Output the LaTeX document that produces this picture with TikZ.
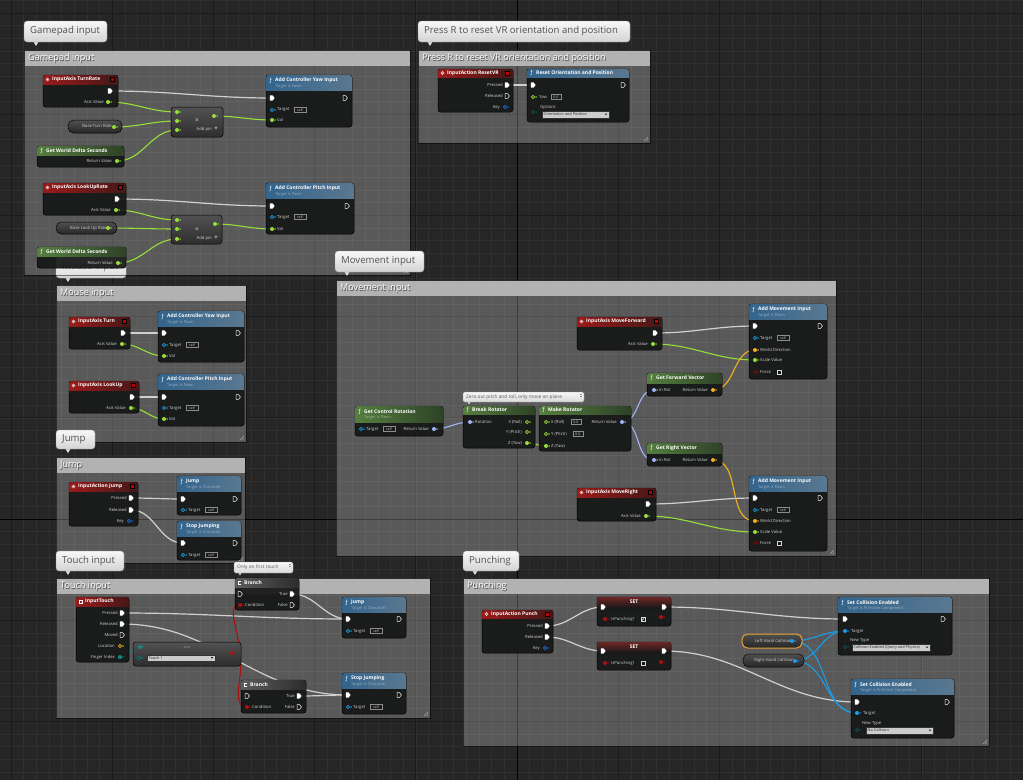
\documentclass[tikz,border=0pt]{standalone}
\usepackage{fontspec}
\setmainfont{Open Sans}
\newfontfamily\symfont{DejaVu Sans}
\usetikzlibrary{fit}
\pgfdeclarelayer{back}
\pgfdeclarelayer{wires}
\pgfsetlayers{back,wires,main}

\definecolor{bgc}{HTML}{262626}
\definecolor{gridminor}{HTML}{303030}
\definecolor{gridmajor}{HTML}{1B1B1B}
\definecolor{cmthead}{HTML}{B2B2B2}
\definecolor{nbody}{HTML}{161717}
\definecolor{cexec}{HTML}{D0D0D0}
\definecolor{cfloat}{HTML}{98DE3A}
\definecolor{cvec}{HTML}{F0B21E}
\definecolor{crot}{HTML}{A2B4F6}
\definecolor{cobj}{HTML}{1B9DE6}
\definecolor{cbool}{HTML}{A81212}
\definecolor{cbooldk}{HTML}{7A1010}
\definecolor{cenum}{HTML}{0F8C7C}
\definecolor{cstruct}{HTML}{1F6FD6}
\definecolor{cenumdk}{HTML}{0E5358}
\definecolor{evL}{HTML}{9A1B1B}
\definecolor{evR}{HTML}{451717}
\definecolor{fnL}{HTML}{33648C}
\definecolor{fnR}{HTML}{5A7890}
\definecolor{puL}{HTML}{557F3F}
\definecolor{puR}{HTML}{2E4227}
\definecolor{brL}{HTML}{5C5C5C}
\definecolor{brR}{HTML}{2C2C2C}
\definecolor{setR}{HTML}{6E2626}
\definecolor{pillT}{HTML}{505050}
\definecolor{pillB}{HTML}{262626}
\definecolor{selorange}{HTML}{E8A03A}

\tikzset{
  nodebody/.style={fill=nbody,fill opacity=0.93,draw=black,line width=0.5pt,rounded corners=2.5pt},
  hdr-ev/.style={left color=evL,right color=evR},
  hdr-touch/.style={left color=evL,right color=evR},
  hdr-fn/.style={left color=fnL,right color=fnR},
  hdr-pure/.style={left color=puL,right color=puR},
  hdr-branch/.style={left color=brL,right color=brR},
  ntitle/.style={text=white,font=\fontsize{5}{5.5}\selectfont\bfseries,inner sep=0pt},
  nsub/.style={text=white,text opacity=0.45,font=\fontsize{4}{4.5}\selectfont,inner sep=0pt},
  plabel/.style={text=white!82!black,font=\fontsize{4.2}{4.6}\selectfont,inner sep=0pt},
  cmttitle/.style={text=white,font=\fontsize{9.1}{10}\selectfont,anchor=west,inner sep=0pt},
  cmtshadow/.style={text=black!75,font=\fontsize{9.1}{10}\selectfont,anchor=west,inner sep=0pt},
  bubbletext/.style={text=black!68,font=\fontsize{9.6}{10}\selectfont,anchor=west,inner sep=0pt},
  sbubbletext/.style={text=black!65,font=\fontsize{4.8}{5}\selectfont,anchor=west,inner sep=0pt},
  xw/.style={line width=1.2pt,draw=cexec,out=0,in=180},
  fw/.style={line width=1.1pt,draw=cfloat,out=0,in=180},
  vw/.style={line width=1.1pt,draw=cvec,out=0,in=180},
  rw/.style={line width=1.1pt,draw=crot,out=0,in=180},
  ow/.style={line width=1.1pt,draw=cobj,out=0,in=180},
  bw/.style={line width=1.1pt,draw=cbool,out=0,in=180},
  ew/.style={line width=1.1pt,draw=cenum,out=0,in=180},
}

% ---------- icons ----------
\newcommand\iconev[4]{%
  \draw[white,line width=0.45pt] ({#1+4.5},#2) circle (1.6);
  \fill[white] ({#1+4.5},#2) circle (0.55);
  \filldraw[fill=red!75!black,draw=black,line width=0.3pt] ({#3-7.5},{#4+2.3}) rectangle ({#3-3.5},{#4+6.3});}
\newcommand\iconfn[4]{\node[text=white,font=\fontsize{5.5}{6}\symfont,inner sep=0pt] at ({#1+4.6},#2) {ƒ};}
\newcommand\iconpure[4]{\iconfn{#1}{#2}{#3}{#4}}
\newcommand\iconbranch[4]{%
  \draw[white,line width=0.5pt] ({#1+6.2},{#2-1.6}) -- ({#1+3.4},{#2-1.6}) -- ({#1+3.4},{#2+1.6}) -- ({#1+6.2},{#2+1.6});}
\newcommand\icontouch[4]{%
  \draw[white,line width=0.4pt,fill=evL] ({#1+2.8},{#2-1.8}) rectangle ({#1+6.2},{#2+1.8});}

% ---------- blueprint node ----------
% name x1 y1 x2 y2 headerheight kind title subtitle
\newcommand\uenode[9]{%
  \node[fit={(#2,#3)(#4,#5)},inner sep=0pt,nodebody] (#1) {};
  \begin{scope}
    \clip[rounded corners=2.5pt] (#2,#3) rectangle (#4,#5);
    \fill[hdr-#7] (#2,#3) rectangle (#4,{#3+#6});
  \end{scope}
  \pgfmathsetmacro\uety{#3+min(#6,11)/2}%
  \csname icon#7\endcsname{#2}{\uety}{#4}{#3}%
  \node[ntitle,anchor=west] at ({#2+9},\uety) {#8};
  \node[nsub,anchor=west] at ({#2+9},{#3+11.2}) {#9};
}
\newcommand\setnode[5]{%
  \node[fit={(#2,#3)(#4,#5)},inner sep=0pt,nodebody] (#1) {};
  \begin{scope}
    \clip[rounded corners=2.5pt] (#2,#3) rectangle (#4,#5);
    \shade[top color=setR,bottom color=nbody] (#2,#3) rectangle (#4,{#3+11});
  \end{scope}
  \node[ntitle] at ({(#2+#4)/2},{#3+4.5}) {SET};
}
\newcommand\compactnode[5]{%
  \node[fit={(#2,#3)(#4,#5)},inner sep=0pt,rounded corners=3pt,top color=black!68,bottom color=black!82,draw=black,line width=0.5pt] (#1) {};}
\newcommand\pill[7]{%
  \node[fit={(#2,#3)(#4,#5)},inner sep=0pt,rounded corners=5.5pt,top color=pillT,bottom color=pillB,draw=black,line width=0.5pt,#7] (#1) {};
  \node[plabel,anchor=east] at ({#4-10},{(#3+#5)/2}) {#6};}

% ---------- pins ----------
\newcommand\xpin[4]{%
  \coordinate (#1) at (#2,#3);
  \ifnum#4=1
    \fill[white] ({#2-2.2},{#3-2.6}) -- ({#2+0.6},{#3-2.6}) -- ({#2+2.6},#3) -- ({#2+0.6},{#3+2.6}) -- ({#2-2.2},{#3+2.6}) -- cycle;
  \else
    \draw[white,line width=0.5pt,fill=nbody] ({#2-2},{#3-2.4}) -- ({#2+0.5},{#3-2.4}) -- ({#2+2.4},#3) -- ({#2+0.5},{#3+2.4}) -- ({#2-2},{#3+2.4}) -- cycle;
  \fi}
\newcommand\dpin[5]{%
  \coordinate (#1) at (#2,#3);
  \ifnum#5=1
    \fill[#4] (#2,#3) circle (2);
  \else
    \draw[#4,line width=0.65pt,fill=nbody] (#2,#3) circle (1.6);
  \fi
  \fill[#4] ({#2+2.7},{#3-1.1}) -- ({#2+3.9},#3) -- ({#2+2.7},{#3+1.1}) -- cycle;}
\newcommand\pinlabR[3]{\node[plabel,anchor=west] at (#1,#2) {#3};}
\newcommand\pinlabL[3]{\node[plabel,anchor=east] at (#1,#2) {#3};}
\newcommand\selfbox[2]{%
  \draw[white!55!black,line width=0.4pt] (#1,{#2-2.4}) rectangle ({#1+12},{#2+2.4});
  \node[plabel,font=\fontsize{3.4}{3.5}\selectfont] at ({#1+6},#2) {self};}
\newcommand\valbox[3]{%
  \draw[white!55!black,line width=0.4pt] (#1,{#2-2.6}) rectangle ({#1+10},{#2+2.6});
  \node[plabel,font=\fontsize{3.6}{3.8}\selectfont] at ({#1+5},#2) {#3};}
\newcommand\chkbox[3]{%
  \draw[white!85!black,line width=0.5pt,fill=nbody] ({#1-2.2},{#2-2.2}) rectangle ({#1+2.2},{#2+2.2});
  \ifnum#3=1 \draw[white,line width=0.5pt] ({#1-1.3},#2) -- ({#1-0.3},{#2+1.2}) -- ({#1+1.4},{#2-1.4}); \fi}
\newcommand\dropdown[5]{%
  \filldraw[fill=white!80!black,draw=black!80,line width=0.3pt] (#1,#2) rectangle (#3,#4);
  \node[font=\fontsize{3.8}{4}\selectfont,text=black!85,anchor=west,inner sep=0pt] at ({#1+1.5},{(#2+#4)/2}) {#5};
  \fill[black!85] ({#3-4.2},{(#2+#4)/2-0.8}) -- ({#3-1.8},{(#2+#4)/2-0.8}) -- ({#3-3},{(#2+#4)/2+0.8}) -- cycle;}

% ---------- comments ----------
\newcommand\cmtbox[6]{%
  \node[fit={(#2,#3)(#4,#5)},inner sep=0pt,fill=white,fill opacity=0.24,draw=black,draw opacity=0.5,line width=0.5pt] (#1) {};
  \fill[cmthead] ({#2+0.5},{#3+0.5}) rectangle ({#4-0.5},{#3+16});
  \node[cmtshadow] at ({#2+4.6},{#3+9.1}) {#6};
  \node[cmttitle] at ({#2+4},{#3+8.5}) {#6};
  \draw[white!65!black,line width=0.4pt] ({#4-2},{#5-6}) -- ({#4-6},{#5-2}) ({#4-2},{#5-3.5}) -- ({#4-3.5},{#5-2});}
\newcommand\bubble[6]{%
  \fill[white!85!black] ({#2+9},{#5-1}) -- ({#2+15},{#5-1}) -- ({#2+12},{#5+4}) -- cycle;
  \node[fit={(#2,#3)(#4,#5)},inner sep=0pt,rounded corners=3pt,top color=white!97!black,bottom color=white!83!black,draw=white!55!black,line width=0.4pt] (#1) {};
  \node[bubbletext] at ({#2+6},{(#3+#5)/2}) {#6};}
\newcommand\smallbubble[6]{%
  \fill[white!85!black] ({#2+4},{#5-1}) -- ({#2+8},{#5-1}) -- ({#2+6},{#5+2.5}) -- cycle;
  \node[fit={(#2,#3)(#4,#5)},inner sep=0pt,rounded corners=1.5pt,top color=white!97!black,bottom color=white!85!black,draw=white!55!black,line width=0.3pt] (#1) {};
  \node[sbubbletext] at ({#2+3},{(#3+#5)/2}) {#6};
  \draw[black!45,line width=0.3pt] ({#4-4},{#3+2.5}) -- ({#4-2},{#3+2.5}) ({#4-4},{#3+3.7}) -- ({#4-2},{#3+3.7});}

\begin{document}
\begin{tikzpicture}[x=1pt,y=-1pt]
\useasboundingbox (0,0) rectangle (1023,780);

\begin{pgfonlayer}{back}
  \fill[bgc] (0,0) rectangle (1023,780);
  \foreach \i in {-40,...,40} \draw[gridminor,line width=0.6pt] ({517+\i*12.65},0) -- ({517+\i*12.65},780);
  \foreach \j in {-41,...,20} \draw[gridminor,line width=0.6pt] (0,{519+\j*12.65}) -- (1023,{519+\j*12.65});
  \foreach \i in {-5,...,5} \draw[gridmajor,line width=0.9pt] ({517+\i*101.2},0) -- ({517+\i*101.2},780);
  \foreach \j in {-5,...,2} \draw[gridmajor,line width=0.9pt] (0,{519+\j*101.2}) -- (1023,{519+\j*101.2});
  \draw[black,line width=1pt] (517,0) -- (517,780);
  \draw[black,line width=1pt] (0,519) -- (1023,519);

  \bubble{bMouse}{56}{257}{126}{278}{Mouse input}
  \cmtbox{cGamepad}{24}{50}{410}{275}{Gamepad input}
  \cmtbox{cReset}{418}{50}{650}{143}{Press R to reset VR orientation and position}
  \cmtbox{cMouse}{56}{285}{246}{442}{Mouse input}
  \cmtbox{cMove}{336}{280}{836}{556}{Movement input}
  \cmtbox{cJump}{56}{457}{245}{563}{Jump}
  \cmtbox{cTouch}{56}{578}{430}{718}{Touch input}
  \cmtbox{cPunch}{463}{578}{989}{746}{Punching}
  \bubble{bGamepad}{24}{21}{107}{42}{Gamepad input}
  \bubble{bReset}{418}{21}{630}{42}{Press R to reset VR orientation and position}
  \bubble{bMove}{335}{251}{424}{272}{Movement input}
  \bubble{bJump}{56}{430}{95}{449}{Jump}
  \bubble{bTouch}{56}{551}{124}{571}{Touch input}
  \bubble{bPunch}{463}{551}{519}{571}{Punching}
\end{pgfonlayer}

% ================= Gamepad input =================
\uenode{turnRate}{43}{75}{118}{107}{9}{ev}{InputAxis TurnRate}{}
\xpin{trExec}{110}{91}{1}
\dpin{trAxis}{108}{102}{cfloat}{1}\pinlabL{104}{102}{Axis Value}
\pill{baseTurn}{68}{120}{122}{133}{Base Turn Rate}{}
\dpin{btrPin}{114}{127}{cfloat}{1}
\compactnode{mul1}{171}{107}{223}{137}
\node[text=white!85!black,font=\fontsize{6.5}{7}\selectfont,inner sep=0pt] at (197,121) {×};
\node[plabel,anchor=east] at (212,129) {Add pin};
\node[plabel,font=\fontsize{6}{6}\selectfont\bfseries] at (216,129) {+};
\dpin{m1a}{177}{112}{cfloat}{1}
\dpin{m1b}{177}{121}{cfloat}{1}
\dpin{m1c}{177}{130}{cfloat}{1}
\dpin{m1o}{214}{116}{cfloat}{1}
\uenode{yaw}{266}{75}{352}{127}{15}{fn}{Add Controller Yaw Input}{Target is Pawn}
\xpin{yawIn}{272}{98}{1}\xpin{yawOut}{345}{98}{0}
\dpin{yawT}{272}{110}{cobj}{0}\pinlabR{277}{110}{Target}\selfbox{294}{110}
\dpin{yawV}{272}{120}{cfloat}{1}\pinlabR{277}{120}{Val}
\uenode{gwds1}{37}{146}{124}{167}{9}{pure}{Get World Delta Seconds}{}
\dpin{gw1}{117}{161}{cfloat}{1}\pinlabL{112}{161}{Return Value}

\uenode{lookRate}{43}{183}{126}{215}{9}{ev}{InputAxis LookUpRate}{}
\xpin{lrExec}{117}{199}{1}
\dpin{lrAxis}{116}{210}{cfloat}{1}\pinlabL{111}{210}{Axis Value}
\pill{baseLook}{56}{222}{117}{234}{Base Look Up Rate}{}
\dpin{blrPin}{108}{228}{cfloat}{1}
\compactnode{mul2}{171}{215}{222}{244}
\node[text=white!85!black,font=\fontsize{6.5}{7}\selectfont,inner sep=0pt] at (197,230) {×};
\node[plabel,anchor=east] at (212,238) {Add pin};
\node[plabel,font=\fontsize{6}{6}\selectfont\bfseries] at (216,238) {+};
\dpin{m2a}{177}{220}{cfloat}{1}
\dpin{m2b}{177}{229}{cfloat}{1}
\dpin{m2c}{177}{239}{cfloat}{1}
\dpin{m2o}{215}{224}{cfloat}{1}
\uenode{pitch}{266}{183}{354}{234}{15}{fn}{Add Controller Pitch Input}{Target is Pawn}
\xpin{pitchIn}{272}{206}{1}\xpin{pitchOut}{347}{206}{0}
\dpin{pitchT}{272}{217}{cobj}{0}\pinlabR{277}{217}{Target}\selfbox{294}{217}
\dpin{pitchV}{272}{229}{cfloat}{1}\pinlabR{277}{229}{Val}
\uenode{gwds2}{37}{247}{126}{268}{9}{pure}{Get World Delta Seconds}{}
\dpin{gw2}{118}{263}{cfloat}{1}\pinlabL{113}{263}{Return Value}

% ================= Press R =================
\uenode{resetEv}{438}{69}{513}{112}{8}{ev}{InputAction ResetVR}{}
\xpin{rvPressed}{507}{85}{1}\pinlabL{503}{85}{Pressed}
\xpin{rvReleased}{507}{96}{0}\pinlabL{503}{96}{Released}
\dpin{rvKey}{505}{107}{cstruct}{0}\pinlabL{500}{107}{Key}
\uenode{resetFn}{527}{69}{629}{122}{8}{fn}{Reset Orientation and Position}{}
\xpin{rfIn}{533}{85}{1}\xpin{rfOut}{623}{85}{0}
\dpin{rfYaw}{533}{97}{cfloat}{0}\pinlabR{539}{97}{Yaw}\valbox{551}{97}{0.0}
\dpin{rfOpt}{533}{112}{cenumdk}{0}\pinlabR{540}{107.5}{Options}
\dropdown{542}{111}{609}{118}{Orientation and Position}

% ================= Mouse input =================
\uenode{turn}{69}{317}{130}{349}{9}{ev}{InputAxis Turn}{}
\xpin{tExec}{123}{333}{1}
\dpin{tAxis}{122}{344}{cfloat}{1}\pinlabL{117}{344}{Axis Value}
\uenode{myaw}{158}{311}{244}{362}{15}{fn}{Add Controller Yaw Input}{Target is Pawn}
\xpin{myawIn}{164}{333}{1}\xpin{myawOut}{238}{333}{0}
\dpin{myawT}{164}{345}{cobj}{0}\pinlabR{169}{345}{Target}\selfbox{186}{345}
\dpin{myawV}{164}{356}{cfloat}{1}\pinlabR{169}{356}{Val}
\uenode{lookUp}{69}{381}{139}{413}{9}{ev}{InputAxis LookUp}{}
\xpin{luExec}{132}{397}{1}
\dpin{luAxis}{131}{408}{cfloat}{1}\pinlabL{126}{408}{Axis Value}
\uenode{mpitch}{158}{374}{244}{426}{15}{fn}{Add Controller Pitch Input}{Target is Pawn}
\xpin{mpIn}{164}{397}{1}\xpin{mpOut}{238}{397}{0}
\dpin{mpT}{164}{408}{cobj}{0}\pinlabR{169}{408}{Target}\selfbox{186}{408}
\dpin{mpV}{164}{419}{cfloat}{1}\pinlabR{169}{419}{Val}

% ================= Jump =================
\uenode{jumpEv}{69}{482}{138}{526}{9}{ev}{InputAction Jump}{}
\xpin{jPressed}{131}{498}{1}\pinlabL{127}{498}{Pressed}
\xpin{jReleased}{131}{510}{1}\pinlabL{127}{510}{Released}
\dpin{jKey}{129}{521}{cstruct}{0}\pinlabL{124}{521}{Key}
\uenode{jumpFn}{177}{476}{241}{515}{15}{fn}{Jump}{Target is Character}
\xpin{jfIn}{183}{499}{1}\xpin{jfOut}{235}{499}{0}
\dpin{jfT}{183}{510}{cobj}{0}\pinlabR{188}{510}{Target}\selfbox{205}{510}
\uenode{stopFn}{177}{521}{241}{560}{15}{fn}{Stop Jumping}{Target is Character}
\xpin{sfIn}{183}{543}{1}\xpin{sfOut}{235}{543}{0}
\dpin{sfT}{183}{555}{cobj}{0}\pinlabR{188}{555}{Target}\selfbox{205}{555}

% ================= Movement input =================
\uenode{gcr}{355}{406}{443}{436}{16}{pure}{Get Control Rotation}{Target is Pawn}
\dpin{gcrT}{361}{429}{cobj}{0}\pinlabR{366}{429}{Target}\selfbox{383}{429}
\dpin{gcrRV}{434}{429}{crot}{1}\pinlabL{429}{429}{Return Value}
\smallbubble{cmtZero}{463}{392}{584}{402}{Zero out pitch and roll, only move on plane}
\uenode{brk}{463}{406}{535}{448}{8}{pure}{Break Rotator}{}
\dpin{brkIn}{470}{422}{crot}{1}\pinlabR{475}{422}{Rotation}
\dpin{brkX}{527}{422}{cfloat}{0}\pinlabL{522}{422}{X (Roll)}
\dpin{brkY}{527}{432}{cfloat}{0}\pinlabL{522}{432}{Y (Pitch)}
\dpin{brkZ}{527}{443}{cfloat}{1}\pinlabL{522}{443}{Z (Yaw)}
\uenode{mk}{539}{406}{631}{451}{8}{pure}{Make Rotator}{}
\dpin{mkX}{546}{422}{cfloat}{0}\pinlabR{551}{422}{X (Roll)}\valbox{571}{422}{0.0}
\dpin{mkY}{546}{434}{cfloat}{0}\pinlabR{551}{434}{Y (Pitch)}\valbox{573}{434}{0.0}
\dpin{mkZ}{546}{446}{cfloat}{1}\pinlabR{551}{446}{Z (Yaw)}
\dpin{mkRV}{622}{422}{crot}{1}\pinlabL{617}{422}{Return Value}

\uenode{mf}{577}{317}{662}{350}{9}{ev}{InputAxis MoveForward}{}
\xpin{mfExec}{655}{333}{1}
\dpin{mfAxis}{653}{344}{cfloat}{1}\pinlabL{648}{344}{Axis Value}
\uenode{ami1}{749}{304}{827}{379}{15}{fn}{Add Movement Input}{Target is Pawn}
\xpin{a1In}{755}{326}{1}\xpin{a1Out}{820}{326}{0}
\dpin{a1T}{755}{338}{cobj}{0}\pinlabR{760}{338}{Target}\selfbox{777}{338}
\dpin{a1WD}{755}{350}{cvec}{1}\pinlabR{760}{350}{World Direction}
\dpin{a1SV}{755}{360}{cfloat}{1}\pinlabR{760}{360}{Scale Value}
\dpin{a1F}{755}{372}{cbooldk}{0}\pinlabR{760}{372}{Force}\chkbox{779}{372}{0}
\uenode{gfv}{647}{373}{722}{396}{10}{pure}{Get Forward Vector}{}
\dpin{gfvIn}{654}{390}{crot}{1}\pinlabR{659}{390}{In Rot}
\dpin{gfvRV}{713}{390}{cvec}{1}\pinlabL{708}{390}{Return Value}
\uenode{grv}{647}{443}{722}{466}{10}{pure}{Get Right Vector}{}
\dpin{grvIn}{654}{460}{crot}{1}\pinlabR{659}{460}{In Rot}
\dpin{grvRV}{713}{460}{cvec}{1}\pinlabL{708}{460}{Return Value}
\uenode{mr}{577}{488}{656}{521}{9}{ev}{InputAxis MoveRight}{}
\xpin{mrExec}{648}{504}{1}
\dpin{mrAxis}{646}{516}{cfloat}{1}\pinlabL{641}{516}{Axis Value}
\uenode{ami2}{749}{476}{827}{551}{15}{fn}{Add Movement Input}{Target is Pawn}
\xpin{a2In}{755}{498}{1}\xpin{a2Out}{820}{498}{0}
\dpin{a2T}{755}{510}{cobj}{0}\pinlabR{760}{510}{Target}\selfbox{777}{510}
\dpin{a2WD}{755}{521}{cvec}{1}\pinlabR{760}{521}{World Direction}
\dpin{a2SV}{755}{532}{cfloat}{1}\pinlabR{760}{532}{Scale Value}
\dpin{a2F}{755}{543}{cbooldk}{0}\pinlabR{760}{543}{Force}\chkbox{779}{543}{0}

% ================= Touch input =================
\smallbubble{cmtFirst}{234}{562}{293}{573}{Only on first touch}
\uenode{touch}{76}{597}{129}{662}{9}{touch}{InputTouch}{}
\xpin{tPressed}{122}{613}{1}\pinlabL{118}{613}{Pressed}
\xpin{tReleased}{122}{624}{1}\pinlabL{118}{624}{Released}
\xpin{tMoved}{122}{635}{0}\pinlabL{118}{635}{Moved}
\dpin{tLoc}{120}{646}{cvec}{0}\pinlabL{115}{646}{Location}
\dpin{tFinger}{120}{657}{cenum}{1}\pinlabL{115}{657}{Finger Index}
\compactnode{eq}{133}{642}{241}{666}
\node[text=white,text opacity=0.25,font=\fontsize{6}{6}\selectfont\bfseries,inner sep=0pt] at (187,648) {==};
\dpin{eqA}{140}{647}{cenum}{1}
\dpin{eqB}{139}{658}{cenum}{0}
\dropdown{147}{655}{215}{661}{Touch 1}
\dpin{eqOut}{232}{653}{cbool}{1}
\uenode{br1}{235}{578}{299}{610}{9}{branch}{Branch}{}
\xpin{br1In}{240}{594}{0}
\xpin{br1True}{292}{594}{1}\pinlabL{288}{594}{True}
\dpin{br1Cond}{240}{605}{cbool}{1}\pinlabR{245}{605}{Condition}
\xpin{br1False}{292}{605}{0}\pinlabL{288}{605}{False}
\uenode{br2}{241}{680}{306}{713}{9}{branch}{Branch}{}
\xpin{br2In}{247}{696}{0}
\xpin{br2True}{299}{696}{1}\pinlabL{295}{696}{True}
\dpin{br2Cond}{247}{707}{cbool}{1}\pinlabR{252}{707}{Condition}
\xpin{br2False}{299}{707}{0}\pinlabL{295}{707}{False}
\uenode{tjump}{342}{597}{406}{638}{15}{fn}{Jump}{Target is Character}
\xpin{tjIn}{348}{619}{1}\xpin{tjOut}{399}{619}{0}
\dpin{tjT}{348}{631}{cobj}{0}\pinlabR{353}{631}{Target}\selfbox{370}{631}
\uenode{tstop}{342}{673}{406}{714}{15}{fn}{Stop Jumping}{Target is Character}
\xpin{tsIn}{348}{695}{1}\xpin{tsOut}{399}{695}{0}
\dpin{tsT}{348}{707}{cobj}{0}\pinlabR{353}{707}{Target}\selfbox{370}{707}

% ================= Punching =================
\uenode{punch}{482}{610}{553}{653}{8}{ev}{InputAction Punch}{}
\xpin{pPressed}{547}{626}{1}\pinlabL{543}{626}{Pressed}
\xpin{pReleased}{547}{637}{1}\pinlabL{543}{637}{Released}
\dpin{pKey}{545}{648}{cstruct}{0}\pinlabL{540}{648}{Key}
\setnode{set1}{597}{597}{671}{626}
\xpin{s1In}{603}{607}{1}\xpin{s1Out}{664}{607}{1}
\dpin{s1B}{605}{619}{cbool}{1}\pinlabR{611}{619}{IsPunching?}\chkbox{643}{619}{1}
\dpin{s1O}{661}{617}{cbool}{1}
\setnode{set2}{597}{642}{671}{670}
\xpin{s2In}{603}{651}{1}\xpin{s2Out}{664}{651}{1}
\dpin{s2B}{605}{663}{cbool}{1}\pinlabR{611}{663}{IsPunching?}\chkbox{643}{663}{0}
\dpin{s2O}{661}{662}{cbool}{1}
\pill{lhc}{742}{634}{802}{648}{Left Hand Collision}{draw=selorange,line width=1pt}
\dpin{lhcPin}{792}{641}{cobj}{1}
\pill{rhc}{743}{654}{804}{667}{Right Hand Collision}{}
\dpin{rhcPin}{795}{661}{cobj}{1}
\uenode{sce1}{838}{597}{952}{655}{15}{fn}{Set Collision Enabled}{Target is Primitive Component}
\xpin{sc1In}{845}{619}{1}\xpin{sc1Out}{943}{619}{0}
\dpin{sc1T}{845}{631}{cobj}{1}\pinlabR{851}{631}{Target}
\node[plabel,anchor=west] at (850,640.5) {New Type};
\dpin{sc1NT}{845}{647}{cenumdk}{0}
\dropdown{852}{644}{930}{651}{Collision Enabled (Query and Physics)}
\uenode{sce2}{851}{679}{954}{738}{15}{fn}{Set Collision Enabled}{Target is Primitive Component}
\xpin{sc2In}{857}{702}{1}\xpin{sc2Out}{947}{702}{0}
\dpin{sc2T}{857}{713}{cobj}{1}\pinlabR{863}{713}{Target}
\node[plabel,anchor=west] at (862,723.5) {New Type};
\dpin{sc2NT}{857}{730}{cenumdk}{0}
\dropdown{866}{727}{933}{734}{No Collision}

% ================= Wires =================
\begin{pgfonlayer}{wires}
  \draw[xw] (trExec) to (yawIn);
  \draw[fw] (trAxis) to (m1a);
  \draw[fw] (btrPin) to (m1b);
  \draw[fw] (gw1) to (m1c);
  \draw[fw] (m1o) to (yawV);
  \draw[xw] (lrExec) to (pitchIn);
  \draw[fw] (lrAxis) to (m2a);
  \draw[fw] (blrPin) to (m2b);
  \draw[fw] (gw2) to (m2c);
  \draw[fw] (m2o) to (pitchV);

  \draw[xw] (rvPressed) to (rfIn);

  \draw[xw] (tExec) to (myawIn);
  \draw[fw] (tAxis) to (myawV);
  \draw[xw] (luExec) to (mpIn);
  \draw[fw] (luAxis) to (mpV);

  \draw[xw] (jPressed) to (jfIn);
  \draw[xw] (jReleased) to (sfIn);

  \draw[rw] (gcrRV) to (brkIn);
  \draw[fw] (brkZ) to (mkZ);
  \draw[rw] (mkRV) to (gfvIn);
  \draw[rw] (mkRV) to (grvIn);
  \draw[xw] (mfExec) to (a1In);
  \draw[fw] (mfAxis) to (a1SV);
  \draw[vw] (gfvRV) to (a1WD);
  \draw[xw] (mrExec) to (a2In);
  \draw[fw] (mrAxis) to (a2SV);
  \draw[vw] (grvRV) to (a2WD);

  \draw[xw] (tPressed) to (tjIn);
  \draw[xw] (tReleased) to (tsIn);
  \draw[xw] (br1True) to (tjIn);
  \draw[xw] (br2True) to (tsIn);
  \draw[ew] (tFinger) to (eqA);
  \draw[bw] (eqOut) to (br1Cond);
  \draw[bw] (eqOut) to (br2Cond);

  \draw[xw] (pPressed) to (s1In);
  \draw[xw] (pReleased) to (s2In);
  \draw[xw] (s1Out) to (sc1In);
  \draw[xw] (s2Out) to (sc2In);
  \draw[ow] (lhcPin) to (sc1T);
  \draw[ow] (lhcPin) to (sc2T);
  \draw[ow] (rhcPin) to (sc1T);
  \draw[ow] (rhcPin) to (sc2T);
\end{pgfonlayer}
\end{tikzpicture}
\end{document}
